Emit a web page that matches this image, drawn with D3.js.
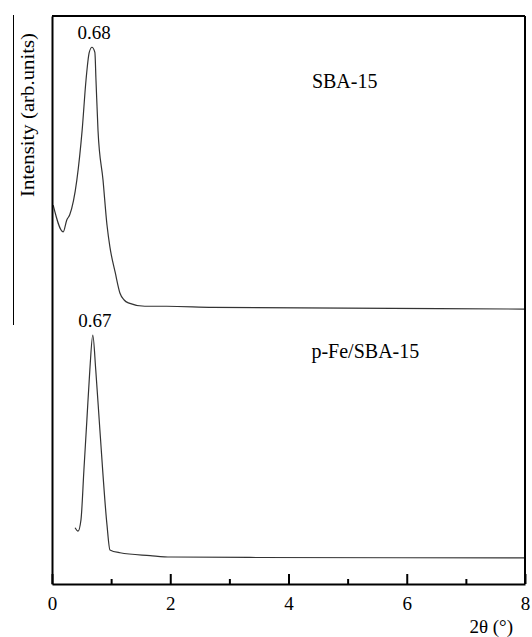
<!DOCTYPE html>
<html>
<head>
<meta charset="utf-8">
<script src="https://cdn.jsdelivr.net/npm/d3@7"></script>
<style>
  body { margin: 0; background: #fff; }
  svg text { font-family: "Liberation Serif", "DejaVu Serif", serif !important; }
</style>
</head>
<body>
<div id="chart"></div>
<script>
// SBA-15 (upper trace), 2theta in degrees, intensity in arbitrary units
var sbaX = [0.02, 0.19, 0.25, 0.30, 0.42, 0.51, 0.575, 0.63, 0.676, 0.725, 0.744, 0.778, 0.863, 0.93, 0.98, 1.07, 1.15, 1.22, 1.29, 1.57, 1.94, 2.72, 4.19, 8.0];
var sbaY = [66.7, 62.0, 64.1, 65.0, 71.1, 79.9, 88.7, 93.6, 94.5, 93.6, 88.7, 79.9, 71.1, 63.2, 59.3, 54.8, 51.2, 50.0, 49.5, 48.9, 48.9, 48.7, 48.6, 48.4];

// p-Fe/SBA-15 (lower trace)
var feX = [0.39, 0.44, 0.49, 0.54, 0.59, 0.64, 0.69, 0.74, 0.81, 0.93, 0.98, 1.15, 1.66, 2.01, 3.35, 8.0];
var feY = [9.9, 9.3, 11.3, 20.1, 28.9, 37.7, 43.8, 37.7, 27.1, 10.4, 6.0, 5.5, 5.0, 4.75, 4.67, 4.6];

var majorTicks = [0, 2, 4, 6, 8];
var minorTicks = [1, 3, 5, 7];

var peakLabels = ["0.68", "0.67"];
var peakX = [0.68, 0.69];
var peakY = [94.5, 43.8];
var sampleNames = ["SBA-15", "p-Fe/SBA-15"];

var svgW = 532;
var svgH = 637;

var margin = { top: 16, right: 7, bottom: 53, left: 52 };
var width = svgW - margin.left - margin.right;
var height = svgH - margin.top - margin.bottom;

var svg = d3.select("#chart")
  .append("svg")
  .attr("width", svgW)
  .attr("height", svgH);

var chartGroup = svg.append("g")
  .attr("transform", `translate(${margin.left}, ${margin.top})`);

var xScale = d3.scaleLinear().domain([0, 8]).range([0, width]);
var yScale = d3.scaleLinear().domain([0, 100]).range([height, 0]);

var line = d3.line()
  .x(d => xScale(d[0]))
  .y(d => yScale(d[1]))
  .curve(d3.curveMonotoneX);

// traces
[[sbaX, sbaY], [feX, feY]].forEach(function(s) {
  chartGroup.append("path")
    .datum(d3.zip(s[0], s[1]))
    .attr("fill", "none")
    .attr("stroke", "#333")
    .attr("stroke-width", 1.2)
    .attr("d", line);
});

// frame: top and right
chartGroup.append("line")
  .attr("x1", 0).attr("x2", width)
  .attr("y1", 0).attr("y2", 0)
  .attr("stroke", "#000").attr("stroke-width", 2);
chartGroup.append("line")
  .attr("x1", width).attr("x2", width)
  .attr("y1", 0).attr("y2", height)
  .attr("stroke", "#000").attr("stroke-width", 2);

// minor ticks
chartGroup.append("g")
  .attr("transform", `translate(0, ${height})`)
  .call(d3.axisBottom(xScale).tickValues(minorTicks).tickSize(-5).tickSizeOuter(0).tickFormat(""))
  .call(g => g.selectAll("line").attr("stroke-width", 2))
  .call(g => g.select(".domain").remove());

// major ticks + labels
var xAxis = chartGroup.append("g")
  .attr("transform", `translate(0, ${height})`)
  .call(d3.axisBottom(xScale).tickValues(majorTicks).tickSize(-10).tickSizeOuter(0).tickFormat(d3.format("d")));
xAxis.attr("font-family", null).attr("font-size", 19);
xAxis.select(".domain").attr("stroke-width", 2);
xAxis.selectAll(".tick line").attr("stroke-width", 2);
xAxis.selectAll(".tick text")
  .attr("y", 26).attr("dy", 0)
  .attr("font-size", 19);

var yAxis = chartGroup.append("g")
  .call(d3.axisLeft(yScale).tickValues([]).tickSizeOuter(0));
yAxis.select(".domain").attr("stroke-width", 2);

// peak labels
chartGroup.selectAll(".peak")
  .data(peakLabels)
  .enter()
  .append("text")
  .attr("class", "peak")
  .attr("x", (d, i) => xScale(peakX[i]) + 2)
  .attr("y", (d, i) => yScale(peakY[i]) - 8)
  .attr("text-anchor", "middle")
  .attr("font-size", 19)
  .text(d => d);

// sample names
var nameX = [4.95, 5.3];
var nameY = [87.3, 39.8];
chartGroup.selectAll(".name")
  .data(sampleNames)
  .enter()
  .append("text")
  .attr("class", "name")
  .attr("x", (d, i) => xScale(nameX[i]))
  .attr("y", (d, i) => yScale(nameY[i]))
  .attr("text-anchor", "middle")
  .attr("font-size", 20)
  .text(d => d);

// axis titles
svg.append("text")
  .attr("x", 513)
  .attr("y", 633)
  .attr("text-anchor", "end")
  .attr("font-size", 19)
  .text("2θ (°)");

svg.append("text")
  .attr("transform", "translate(34, 115) rotate(-90)")
  .attr("text-anchor", "middle")
  .attr("font-size", 19)
  .attr("textLength", 164)
  .attr("lengthAdjust", "spacingAndGlyphs")
  .text("Intensity (arb.units)");

svg.append("line")
  .attr("x1", 13.5).attr("x2", 13.5)
  .attr("y1", 15).attr("y2", 325)
  .attr("stroke", "#000").attr("stroke-width", 1);
</script>
</body>
</html>
